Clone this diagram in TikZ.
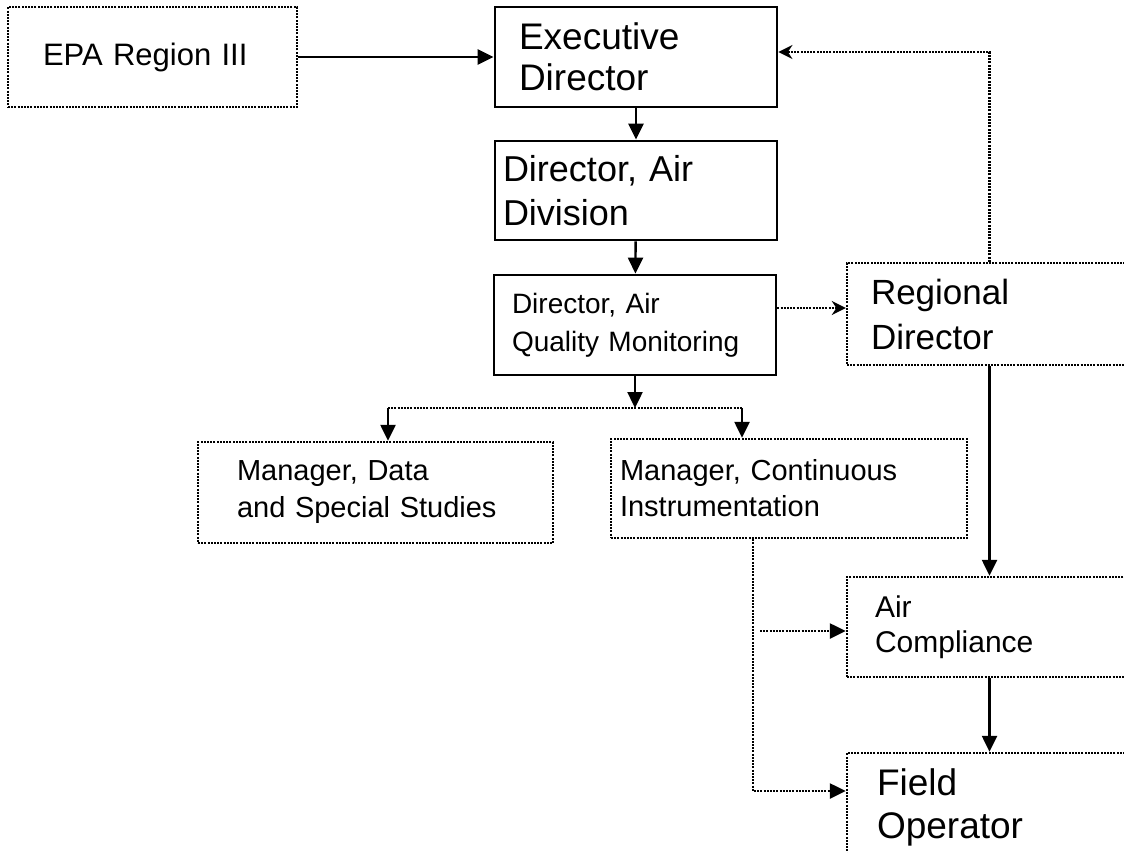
\documentclass[tikz,border=0pt]{standalone}
\usepackage{fontspec}
\setmainfont{Liberation Sans}
\usetikzlibrary{arrows.meta,calc}
\frenchspacing

\tikzstyle{solidbox} = [rectangle, draw=black, line width=1.4pt, inner sep=0pt, align=left]
\tikzstyle{dotbox} = [rectangle, draw=black, line width=1.2pt, dash pattern=on 1pt off 0.6pt, inner sep=0pt, align=left]
\tikzstyle{arrow} = [line width=1.2pt,-{Triangle[length=8pt,width=7.5pt]}]
\tikzstyle{dotline} = [line width=1.2pt, dash pattern=on 1pt off 0.6pt]
\tikzstyle{dotarrow} = [dotline,-{Stealth[length=7pt,width=7pt]}]
\tikzstyle{dottri} = [dotline,-{Triangle[length=8pt,width=7.5pt]}]

\begin{document}
\begin{tikzpicture}[x=0.5pt, y=-0.5pt]
\useasboundingbox (0,0) rectangle (1124,852);
\clip (0,0) rectangle (1124,852);

\node (epa) [dotbox, minimum width=144.5pt, minimum height=50pt, text width=109.5pt, font=\fontsize{15.5}{18}\selectfont] at (152.5,57) {EPA Region III};
\node (exec) [solidbox, minimum width=141pt, minimum height=50pt, text width=117pt, font=\fontsize{18.5}{20.5}\selectfont] at (636,57) {Executive\\Director};
\node (dirair) [solidbox, minimum width=141pt, minimum height=49.5pt, text width=133pt, font=\fontsize{18}{22}\selectfont] at (636,190.5) {Director, Air\\Division};
\node (aqm) [solidbox, minimum width=141pt, minimum height=50pt, text width=123pt, font=\fontsize{14}{19}\selectfont] at (635,325) {Director, Air\\Quality~Monitoring};
\node (mds) [dotbox, minimum width=177.5pt, minimum height=50.5pt, text width=138.5pt, font=\fontsize{14.5}{18.5}\selectfont] at (375.5,492.5) {Manager, Data\\and~Special~Studies};
\node (mci) [dotbox, minimum width=178pt, minimum height=49.5pt, text width=169pt, font=\fontsize{14.5}{18}\selectfont] at (789,488.5) {Manager, Continuous\\Instrumentation};
\node (regdir) [dotbox, minimum width=142.5pt, minimum height=51pt, text width=118.5pt, font=\fontsize{17.5}{22.5}\selectfont] at (989.5,314) {Regional\\Director};
\node (aircomp) [dotbox, minimum width=142.5pt, minimum height=50pt, text width=114.5pt, font=\fontsize{15}{17.5}\selectfont] at (989.5,627) {Air\\Compliance};
\node (fieldop) [dotbox, minimum width=142.5pt, minimum height=54pt, text width=112.5pt, font=\fontsize{18.5}{21.5}\selectfont] at (989.5,807) {Field\\Operator};

% main chain
\draw [arrow] (epa.east) -- (exec.west);
\draw [arrow] (exec) -- (dirair);
\draw [arrow] (dirair) -- (aqm);

% split to the two managers
\coordinate (split) at (635,408);
\coordinate (brleft) at (388,408);
\coordinate (brright) at (742,408);
\draw [arrow] (aqm.south) -- (split);
\draw [dotline] (brleft) -- (brright);
\draw [arrow] (brleft) -- (brleft |- mds.north);
\draw [arrow] (brright) -- (brright |- mci.north);

% regional side
\coordinate (aqmout) at ($(aqm.east)+(0,-17)$);
\coordinate (execin) at ($(exec.east)+(0,-5)$);
\draw [dotarrow] (aqmout) -- (aqmout -| regdir.west);
\draw [dotarrow] (regdir.north) |- (execin);
\draw [arrow] (regdir) -- (aircomp);
\draw [arrow] (aircomp) -- (fieldop);

% instrumentation to the field
\coordinate (mciout) at ($(mci.south)+(-36,0)$);
\coordinate (fieldin) at ($(fieldop.west)+(0,-16)$);
\coordinate (compin) at ($(aircomp.west)+(0,4)$);
\draw [dottri] (mciout) |- (fieldin);
\draw [dottri] ($(compin -| mciout)+(7,0)$) -- (compin);

\end{tikzpicture}
\end{document}
